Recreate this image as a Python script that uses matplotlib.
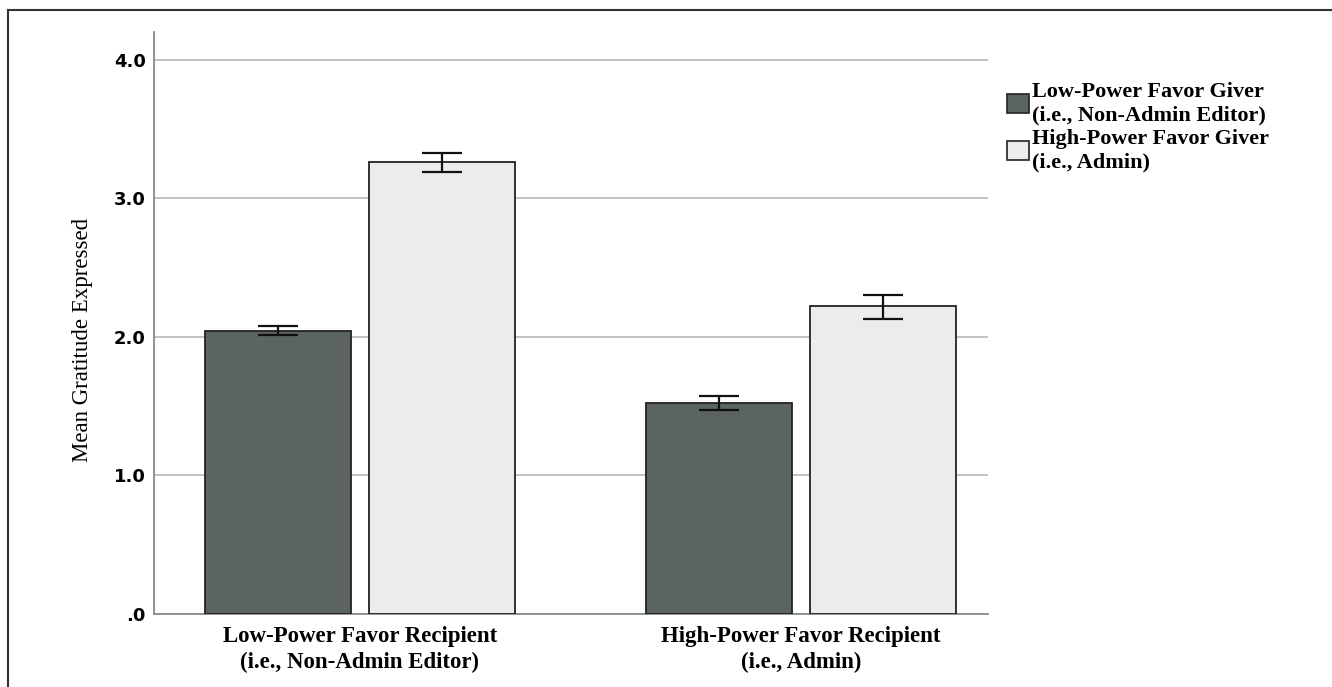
import matplotlib
matplotlib.use("Agg")
import matplotlib.pyplot as plt
from matplotlib.lines import Line2D
from matplotlib.patches import Patch
import numpy as np

# Data
groups = ["Low-Power Favor Recipient\n(i.e., Non-Admin Editor)",
          "High-Power Favor Recipient\n(i.e., Admin)"]
series = ["Low-Power Favor Giver\n(i.e., Non-Admin Editor)",
          "High-Power Favor Giver\n(i.e., Admin)"]
low_giver = [2.04, 1.52]
high_giver = [3.26, 2.22]
low_err_lo = [2.01, 1.47]
low_err_hi = [2.08, 1.57]
high_err_lo = [3.19, 2.13]
high_err_hi = [3.33, 2.30]
yticks = [0.0, 1.0, 2.0, 3.0, 4.0]
ytick_labels = [".0", "1.0", "2.0", "3.0", "4.0"]

DARK = "#5b645f"
LIGHT = "#ececec"
SERIF = "Liberation Serif"

fig = plt.figure(figsize=(13.32, 6.87), dpi=100)
ax = fig.add_axes([0.1156, 0.1063, 0.6261, 0.8471])

x = np.arange(len(groups))
width = 0.331
offset = 0.186

for vals, lo, hi, color, sign in [
    (low_giver, low_err_lo, low_err_hi, DARK, -1),
    (high_giver, high_err_lo, high_err_hi, LIGHT, 1),
]:
    xs = x + sign * offset
    ax.bar(xs, vals, width=width, color=color, edgecolor="#222222",
           linewidth=1.3, zorder=3)
    vals = np.array(vals)
    yerr = [vals - np.array(lo), np.array(hi) - vals]
    ax.errorbar(xs, vals, yerr=yerr, fmt="none", ecolor="#111111",
                elinewidth=1.6, capsize=14.5, capthick=1.6, zorder=4)

ax.set_xlim(-0.467, 1.424)
ax.set_ylim(0, 4.2)
ax.set_yticks(yticks)
ax.set_yticklabels(ytick_labels, fontsize=13, fontweight="bold",
                   family="DejaVu Sans")
ax.set_xticks(x)
ax.set_xticklabels(groups, fontsize=16.5, fontweight="bold", family=SERIF,
                   linespacing=1.3)
ax.tick_params(axis="y", length=0, pad=6)
ax.tick_params(axis="x", length=0, pad=9)
ax.yaxis.grid(True, color="#bdbdbd", linewidth=1.3, zorder=0)
ax.set_axisbelow(True)
for side in ["top", "right"]:
    ax.spines[side].set_visible(False)
for side in ["left", "bottom"]:
    ax.spines[side].set_color("#8a8a8a")
    ax.spines[side].set_linewidth(1.3)

ax.set_ylabel("Mean Gratitude Expressed", fontsize=16.5, family=SERIF)
ax.yaxis.set_label_coords(-0.073, 0.471)

handles = [Patch(facecolor=DARK, edgecolor="#222222", linewidth=1.2),
           Patch(facecolor=LIGHT, edgecolor="#222222", linewidth=1.2)]
leg = fig.legend(handles, series, loc="upper left",
                 bbox_to_anchor=(0.748, 0.897), frameon=False,
                 prop={"family": SERIF, "size": 16, "weight": "bold"},
                 handlelength=0.95, handleheight=0.95, handletextpad=0.15,
                 labelspacing=0.15, borderpad=0)
for t in leg.get_texts():
    t.set_linespacing(1.25)

# outer frame lines (left and top only)
fig.add_artist(Line2D([0.006, 0.006], [0.0, 0.985], color="#333333",
                      linewidth=1.5, transform=fig.transFigure))
fig.add_artist(Line2D([0.006, 0.999], [0.985, 0.985], color="#333333",
                      linewidth=1.5, transform=fig.transFigure))

fig.savefig("out.png", dpi=100)
